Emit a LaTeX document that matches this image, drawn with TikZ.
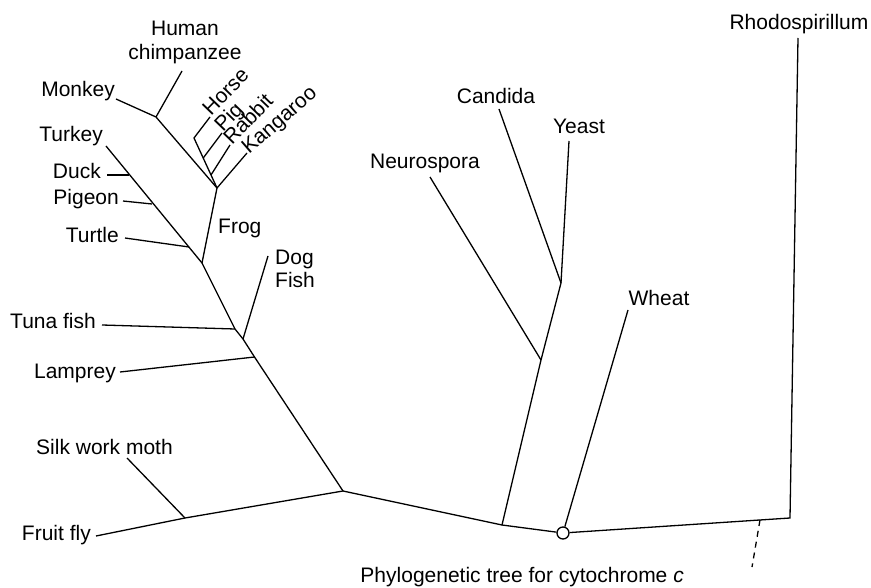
\documentclass[tikz,border=0pt]{standalone}
\usepackage{fontspec}
\setmainfont{Liberation Sans}
\begin{document}
\begin{tikzpicture}[x=1pt,y=-1pt,
  lab/.style={inner sep=0pt,font=\fontsize{21}{24}\selectfont},
  br/.style={line width=1.3pt,line join=miter},
  dsh/.style={line width=1.3pt,dash pattern=on 6pt off 5pt}]
\useasboundingbox (0,0) rectangle (871,588);
% labels
\node[lab,align=center,anchor=base] (human) at (185,60) {Human\\chimpanzee};
\node[lab,anchor=base east] (monkey) at (115,97) {Monkey};
\node[lab,anchor=base west,rotate=46] (horse) at (211,117) {Horse};
\node[lab,anchor=base west,rotate=46] (pig) at (223,133) {Pig};
\node[lab,anchor=base west,rotate=46] (rabbit) at (232,146) {Rabbit};
\node[lab,anchor=base west,rotate=41] (kangaroo) at (249,155) {Kangaroo};
\node[lab,anchor=base east] (turkey) at (103,142) {Turkey};
\node[lab,anchor=base east] (duck) at (101,179) {Duck};
\node[lab,anchor=base east] (pigeon) at (119,205) {Pigeon};
\node[lab,anchor=base east] (turtle) at (119,243) {Turtle};
\node[lab,anchor=base west] (frog) at (218,234) {Frog};
\node[lab,anchor=base west,align=left] (dogfish) at (275,288) {Dog\\Fish};
\node[lab,anchor=base east] (tuna) at (96,329) {Tuna fish};
\node[lab,anchor=base east] (lamprey) at (116,378) {Lamprey};
\node[lab,anchor=base west] (silk) at (36,454) {Silk work moth};
\node[lab,anchor=base east] (fruit) at (91,540) {Fruit fly};
\node[lab,anchor=base] (neuro) at (425,169) {Neurospora};
\node[lab,anchor=base] (candida) at (496,104) {Candida};
\node[lab,anchor=base] (yeast) at (579,134) {Yeast};
\node[lab,anchor=base] (wheat) at (659,306) {Wheat};
\node[lab,anchor=base] (rhodo) at (799,30) {Rhodospirillum};
\node[lab,anchor=base east] (caption) at (684,582) {Phylogenetic tree for cytochrome \textit{c}};
% tips
\coordinate (tHuman) at (182,71);
\coordinate (tMonkey) at (116,99);
\coordinate (tHorse) at (210,117);
\coordinate (tPig) at (222,133);
\coordinate (tRabbit) at (230,145);
\coordinate (tKang) at (247,153);
\coordinate (tTurkey) at (106,146);
\coordinate (tDuck) at (107,175);
\coordinate (tPigeon) at (123,201);
\coordinate (tTurtle) at (125,238);
\coordinate (tDog) at (268,256);
\coordinate (tTuna) at (102,325);
\coordinate (tLamprey) at (120,372);
\coordinate (tSilk) at (127,458);
\coordinate (tFruit) at (96,536);
\coordinate (tNeuro) at (430,177);
\coordinate (tCandida) at (499,109);
\coordinate (tYeast) at (569,141);
\coordinate (tWheat) at (628,310);
\coordinate (tRhodo) at (798,38);
% internal nodes
\coordinate (nPrim) at (156,117);
\coordinate (nHorse) at (194,138);
\coordinate (nPig) at (203.2,158);
\coordinate (nRabbit) at (211,175);
\coordinate (nMam) at (217,188);
\coordinate (nDuck) at (129,175);
\coordinate (nPigeon) at (152,204);
\coordinate (nTurtle) at (189,247);
\coordinate (nRept) at (202,263);
\coordinate (nTuna) at (235,329);
\coordinate (nDog) at (243,339);
\coordinate (nLamprey) at (254.5,357);
\coordinate (nRoot) at (343,491);
\coordinate (nInsect) at (185,518);
\coordinate (nFung) at (502,525);
\coordinate (nNeuro) at (541,360);
\coordinate (nYeast) at (561,283);
\coordinate (nRhodo) at (790,518);
\coordinate (dA) at (760,520);
\coordinate (dB) at (752,567);
% branches
\draw[br] (tHuman) -- (nPrim);
\draw[br] (tMonkey) -- (nPrim) -- (nMam);
\draw[br] (tHorse) -- (nHorse) -- (nMam);
\draw[br] (tPig) -- (nPig);
\draw[br] (tRabbit) -- (nRabbit);
\draw[br] (tKang) -- (nMam) -- (nRept);
\draw[br] (tTurkey) -- (nRept);
\draw[br] (tDuck) -- (nDuck);
\draw[br] (tPigeon) -- (nPigeon);
\draw[br] (tTurtle) -- (nTurtle);
\draw[br] (nRept) -- (nTuna) -- (nDog) -- (nLamprey) -- (nRoot);
\draw[br] (tTuna) -- (nTuna);
\draw[br] (tDog) -- (nDog);
\draw[br] (tLamprey) -- (nLamprey);
\draw[br] (tSilk) -- (nInsect);
\draw[br] (tFruit) -- (nInsect) -- (nRoot) -- (nFung);
\draw[br] (nFung) -- (nNeuro) -- (nYeast) -- (tYeast);
\draw[br] (nYeast) -- (tCandida);
\draw[br] (nNeuro) -- (tNeuro);
\node[circle,draw,line width=1.3pt,fill=white,minimum size=12pt,inner sep=0pt] (circ) at (563,533) {};
\draw[br] (nFung) -- (circ);
\draw[br] (circ) -- (nRhodo) -- (tRhodo);
\draw[br] (circ) -- (tWheat);
\draw[dsh] (dA) -- (dB);
\end{tikzpicture}
\end{document}
